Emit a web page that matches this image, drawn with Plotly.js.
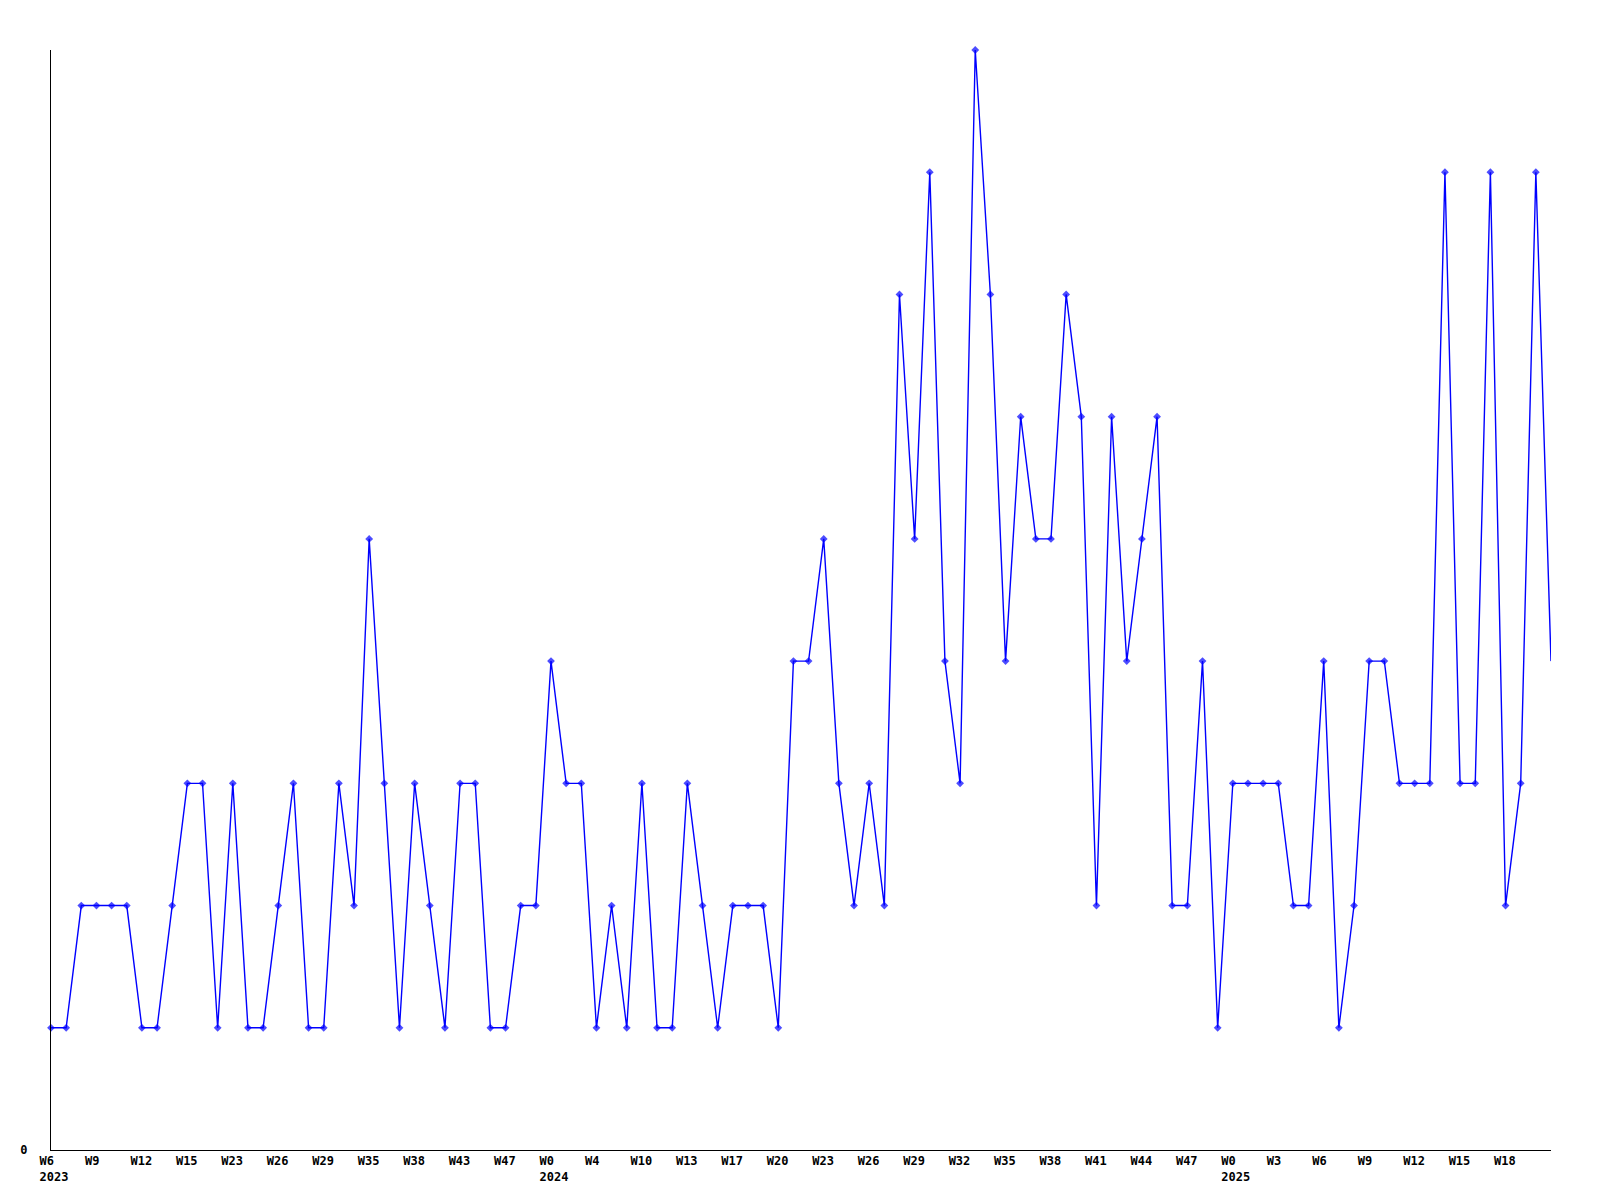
<!DOCTYPE html>
<html>
<head>
<meta charset="utf-8">
<script src="https://cdn.plot.ly/plotly-3.0.1.min.js"></script>
<style>html,body{margin:0;padding:0;background:#fff;}#chart{width:1600px;height:1200px;}</style>
</head>
<body>
<div id="chart"></div>
<script>
// weekly values, one per data point (categorical positions)
const values = [
  1,1,2,2,2,2,1,1,2,3,
  3,1,3,1,1,2,3,1,1,3,
  2,5,3,1,3,2,1,3,3,1,
  1,2,2,4,3,3,1,2,1,3,
  1,1,3,2,1,2,2,2,1,4,
  4,5,3,2,3,2,7,5,8,4,
  3,9,7,4,6,5,5,7,6,2,
  6,4,5,6,2,2,4,1,3,3,
  3,3,2,2,4,1,2,4,4,3,
  3,3,8,3,3,8,2,3,8,4
];
// tick labels, one every third data point
const tickWeeks = ["W6","W9","W12","W15","W23","W26","W29","W35","W38","W43","W47",
  "W0","W4","W10","W13","W17","W20","W23","W26","W29","W32","W35","W38","W41","W44","W47",
  "W0","W3","W6","W9","W12","W15","W18"];
const tickYears = ["2023","","","","","","","","","","",
  "2024","","","","","","","","","","","","","","",
  "2025","","","","","",""];

const xs = values.map((v, i) => i);
const pad = s => s + "\u00a0".repeat(Math.max(0, 4 - s.length));
const tickvals = tickWeeks.map((w, k) => k * 3);
const ticktext = tickWeeks.map((w, k) => tickYears[k] ? pad(w) + "<br>" + tickYears[k] : pad(w));
// the last point sits on the plot edge and shows no marker
const markerSizes = values.map((v, i) => (i === values.length - 1 ? 0 : 6));

const font = {family: "DejaVu Sans Mono, monospace", size: 12, color: "#000", weight: "bold"};

Plotly.newPlot("chart", [{
  x: xs,
  y: values,
  type: "scatter",
  mode: "lines+markers",
  line: {color: "#0000ff", width: 1.4},
  marker: {color: "#0000ff", symbol: "diamond", size: markerSizes, line: {width: 0}},
  cliponaxis: false,
  hoverinfo: "skip"
}], {
  width: 1600,
  height: 1200,
  margin: {l: 51, r: 49, t: 50, b: 50, pad: 0},
  paper_bgcolor: "#fff",
  plot_bgcolor: "#fff",
  showlegend: false,
  font: font,
  xaxis: {
    range: [0, 99],
    showgrid: false,
    zeroline: false,
    showline: true,
    linecolor: "#000",
    linewidth: 1,
    ticks: "",
    tickmode: "array",
    tickvals: tickvals,
    ticktext: ticktext,
    tickfont: font,
    tickangle: 0,
    ticklabelshift: 3,
    ticklabelstandoff: 0
  },
  yaxis: {
    range: [0, 9],
    showgrid: false,
    zeroline: false,
    showline: true,
    linecolor: "#000",
    linewidth: 1,
    ticks: "",
    tickmode: "array",
    tickvals: [0],
    ticktext: ["0"],
    tickfont: font,
    ticklabelstandoff: 20
  }
}, {staticPlot: true});
</script>
</body>
</html>
